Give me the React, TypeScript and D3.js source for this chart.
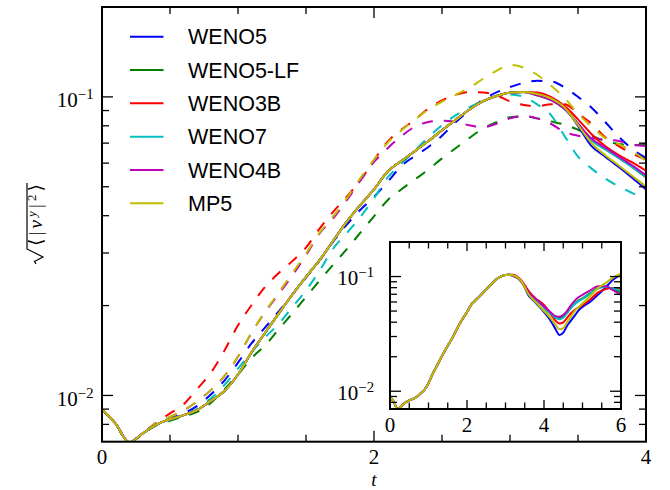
import React from 'react';
import * as d3 from 'd3';

const W = 670;
const H = 490;

const SCHEMES = ['WENO5', 'WENO5-LF', 'WENO3B', 'WENO7', 'WENO4B', 'MP5'];
const COLORS = ['#0000ff', '#008000', '#ff0000', '#00bfbf', '#bf00bf', '#bfbf00'];

// time grid of the solid runs (main plot shows t<=4, inset t<=6)
const T_SOLID = [
  0, 0.1, 0.2, 0.3, 0.4, 0.5, 0.6, 0.7, 0.8, 0.9,
  1.0, 1.1, 1.2, 1.3, 1.4, 1.5, 1.6, 1.7, 1.8, 1.9,
  2.0, 2.1, 2.2, 2.3, 2.4, 2.5, 2.6, 2.7, 2.8, 2.9,
  3.0, 3.1, 3.2, 3.3, 3.4, 3.5, 3.6, 3.7, 3.8, 3.9,
  4.0, 4.1, 4.2, 4.3, 4.4, 4.5, 4.6, 4.7, 4.8, 4.9,
  5.0, 5.2, 5.4, 5.6, 5.8, 6.0,
];

// common growth phase of all solid curves, t = 0 .. 3.1
const SOLID_RISE = [
  0.00899, 0.00804, 0.00697, 0.00746, 0.00798, 0.00832, 0.00859, 0.00895, 0.00959, 0.01035,
  0.01175, 0.01396, 0.01622, 0.01884, 0.02178, 0.02495, 0.02838, 0.03296, 0.03819, 0.04345,
  0.04898, 0.05623, 0.06095, 0.06577, 0.07112, 0.07727, 0.08375, 0.09057, 0.09661, 0.1007,
  0.1033, 0.1038,
];

// solid curves after the peak, t = 3.2 .. 6.0
const SOLID_TAIL_WENO5 = [
  0.1023, 0.0989, 0.0923, 0.0800, 0.0684, 0.0631, 0.0582, 0.0535,
  0.0490, 0.0447, 0.0398, 0.0347, 0.0309, 0.0324, 0.0372, 0.0412, 0.0457, 0.0507,
  0.0543, 0.0603, 0.0692, 0.0803, 0.0942, 0.1047,
];
const SOLID_TAIL_WENO5LF = [
  0.1012, 0.0977, 0.0912, 0.0813, 0.0716, 0.0668, 0.0624, 0.0582,
  0.0537, 0.0495, 0.0462, 0.0437, 0.0432, 0.0447, 0.0490, 0.0537, 0.0582, 0.0617,
  0.0646, 0.0716, 0.0794, 0.0813, 0.0767, 0.0733,
];
const SOLID_TAIL_WENO3B = [
  0.1035, 0.1000, 0.0933, 0.0841, 0.0750, 0.0684, 0.0638, 0.0603,
  0.0565, 0.0513, 0.0457, 0.0412, 0.0389, 0.0398, 0.0437, 0.0479, 0.0513, 0.0537,
  0.0562, 0.0631, 0.0724, 0.0776, 0.0794, 0.0794,
];
const SOLID_TAIL_WENO7 = [
  0.1012, 0.0977, 0.0912, 0.0813, 0.0716, 0.0668, 0.0624, 0.0582,
  0.0540, 0.0501, 0.0468, 0.0437, 0.0424, 0.0437, 0.0479, 0.0531, 0.0575, 0.0610,
  0.0638, 0.0708, 0.0785, 0.0813, 0.0785, 0.0759,
];
const SOLID_TAIL_WENO4B = [
  0.1012, 0.0977, 0.0912, 0.0813, 0.0724, 0.0676, 0.0631, 0.0589,
  0.0547, 0.0513, 0.0479, 0.0452, 0.0447, 0.0462, 0.0501, 0.0562, 0.0617, 0.0661,
  0.0692, 0.0759, 0.0822, 0.0822, 0.0759, 0.0692,
];
const SOLID_TAIL_MP5 = [
  0.1023, 0.0989, 0.0923, 0.0805, 0.0700, 0.0638, 0.0589, 0.0543,
  0.0501, 0.0462, 0.0422, 0.0380, 0.0347, 0.0355, 0.0398, 0.0447, 0.0501, 0.0543,
  0.0582, 0.0676, 0.0794, 0.0877, 0.0982, 0.1059,
];
const SOLID_TAILS = [
  SOLID_TAIL_WENO5, SOLID_TAIL_WENO5LF, SOLID_TAIL_WENO3B,
  SOLID_TAIL_WENO7, SOLID_TAIL_WENO4B, SOLID_TAIL_MP5,
];

// dashed runs (main plot only), t = 0 .. 4.0
const T_DASHED = [
  0, 0.1, 0.2, 0.3, 0.4, 0.5, 0.6, 0.7, 0.8, 0.9,
  1.0, 1.1, 1.2, 1.3, 1.4, 1.5, 1.6, 1.7, 1.8, 1.9,
  2.0, 2.1, 2.2, 2.3, 2.4, 2.5, 2.6, 2.7, 2.8, 2.9,
  3.0, 3.1, 3.2, 3.3, 3.4, 3.5, 3.6, 3.7, 3.8, 3.9,
  4.0,
];
const DASHED_WENO5 = [
  0.00899, 0.00804, 0.00697, 0.00746, 0.00798, 0.00836, 0.00871, 0.00923, 0.01007, 0.01122,
  0.01288, 0.01496, 0.01690, 0.01914, 0.02178, 0.02483, 0.02831, 0.03273, 0.03733, 0.04188,
  0.04624, 0.05188, 0.05861, 0.06339, 0.06792, 0.07413, 0.08222, 0.09016, 0.09772, 0.1035,
  0.1079, 0.1114, 0.1132, 0.1127, 0.1076, 0.1000, 0.0920, 0.0824, 0.0735, 0.0668,
  0.0624,
];
const DASHED_WENO5LF = [
  0.00899, 0.00804, 0.00697, 0.00746, 0.00794, 0.00822, 0.00851, 0.00881, 0.00944, 0.01047,
  0.01175, 0.01334, 0.01472, 0.01667, 0.01884, 0.02138, 0.02427, 0.02742, 0.03090, 0.03508,
  0.03981, 0.04508, 0.04898, 0.05284, 0.05715, 0.06223, 0.06730, 0.07278, 0.07816, 0.08222,
  0.08551, 0.08610, 0.08472, 0.08279, 0.08072, 0.07762, 0.07413, 0.07112, 0.06950, 0.06887,
  0.06966,
];
const DASHED_WENO3B = [
  0.00899, 0.00804, 0.00697, 0.00746, 0.00813, 0.00871, 0.00933, 0.01052, 0.01189, 0.01413,
  0.01718, 0.02009, 0.02312, 0.02570, 0.02818, 0.03126, 0.03622, 0.04121, 0.04634, 0.05248,
  0.06138, 0.07079, 0.07762, 0.08375, 0.09141, 0.09727, 0.1016, 0.1038, 0.1035, 0.1012,
  0.0966, 0.0940, 0.0931, 0.0944, 0.0944, 0.0879, 0.0813, 0.0733, 0.0684, 0.0646,
  0.0617,
];
const DASHED_WENO7 = [
  0.00899, 0.00804, 0.00697, 0.00746, 0.00794, 0.00828, 0.00861, 0.00902, 0.00977, 0.01084,
  0.01230, 0.01396, 0.01567, 0.01738, 0.01977, 0.02249, 0.02618, 0.03105, 0.03499, 0.03963,
  0.04571, 0.05370, 0.05957, 0.06607, 0.07328, 0.08035, 0.08670, 0.09226, 0.09705, 0.1005,
  0.1019, 0.1000, 0.0944, 0.0871, 0.0741, 0.0631, 0.0575, 0.0533, 0.0501, 0.0476,
  0.0454,
];
const DASHED_WENO4B = [
  0.00899, 0.00804, 0.00697, 0.00746, 0.00809, 0.00847, 0.00891, 0.00955, 0.01042, 0.01161,
  0.01349, 0.01622, 0.01905, 0.02188, 0.02523, 0.02951, 0.03491, 0.03917, 0.04508, 0.05248,
  0.06053, 0.06730, 0.07379, 0.07943, 0.08241, 0.08318, 0.08241, 0.08035, 0.07907, 0.08128,
  0.08472, 0.08630, 0.08472, 0.08128, 0.07638, 0.07413, 0.07278, 0.07194, 0.07112, 0.06918,
  0.06839,
];
const DASHED_MP5 = [
  0.00899, 0.00804, 0.00697, 0.00746, 0.00809, 0.00847, 0.00891, 0.00955, 0.01042, 0.01161,
  0.01349, 0.01622, 0.01914, 0.02213, 0.02570, 0.02985, 0.03508, 0.03981, 0.04571, 0.05346,
  0.06166, 0.07015, 0.07709, 0.08375, 0.09078, 0.09638, 0.1016, 0.1072, 0.1148, 0.1222,
  0.1279, 0.1253, 0.1186, 0.1091, 0.0993, 0.0879, 0.0794, 0.0728, 0.0695, 0.0658,
  0.0610,
];
const DASHED = [DASHED_WENO5, DASHED_WENO5LF, DASHED_WENO3B, DASHED_WENO7, DASHED_WENO4B, DASHED_MP5];

const MAIN_X_LABELS = [0, 2, 4];
const INSET_X_LABELS = [0, 2, 4, 6];
const Y_LABEL_DECADES = [0.01, 0.1];
const Y_DOMAIN = [0.007, 0.2];

const SERIF = "'Liberation Serif', 'DejaVu Serif', serif";
const SANS = "'Liberation Sans', Arial, sans-serif";

function isDecade(v: number) {
  const l = Math.log10(v);
  return Math.abs(l - Math.round(l)) < 1e-6;
}

function PowLabel({ x, y, exp, size }: { x: number; y: number; exp: number; size: number }) {
  return (
    <text x={x} y={y} textAnchor="end" fontFamily={SERIF} fontSize={size} fill="#000">
      10
      <tspan dy={-8} fontSize={size * 0.7}>{'\u2212' + Math.abs(exp)}</tspan>
    </text>
  );
}

export default function App() {
  const xM = d3.scaleLinear().domain([0, 4]).range([102, 646]);
  const yM = d3.scaleLog().domain(Y_DOMAIN).range([441.7, 7]);
  const xI = d3.scaleLinear().domain([0, 6]).range([390, 621]);
  const yI = d3.scaleLog().domain(Y_DOMAIN).range([409, 242]);

  const solid = SOLID_TAILS.map((tail) => SOLID_RISE.concat(tail));

  const lineGen = (xs: any, ys: any) =>
    d3
      .line<[number, number]>()
      .x((d) => xs(d[0]))
      .y((d) => ys(d[1]))
      .curve(d3.curveMonotoneX);

  const mainLine = lineGen(xM, yM);
  const insetLine = lineGen(xI, yI);

  const solidPts = solid.map((vals) => T_SOLID.map((t, i) => [t, vals[i]] as [number, number]));
  const dashedPts = DASHED.map((vals) => T_DASHED.map((t, i) => [t, vals[i]] as [number, number]));

  const yTicks = yM.ticks().filter((v) => v > Y_DOMAIN[0] * 1.001 && v < Y_DOMAIN[1] * 0.999);
  const xTicksMain = xM.ticks(8);
  const xTicksInset = xI.ticks(12);

  const [mx0, mx1] = xM.range();
  const [my0, my1] = [yM.range()[1], yM.range()[0]];
  const [ix0, ix1] = xI.range();
  const [iy0, iy1] = [yI.range()[1], yI.range()[0]];

  const tickStroke = { stroke: '#000', strokeWidth: 1.3 };

  return (
    <svg
      width={W}
      height={H}
      viewBox={`0 0 ${W} ${H}`}
      style={{ position: 'absolute', left: 0, top: 0, background: '#fff' }}
    >
      <defs>
        <clipPath id="clipMain">
          <rect x={mx0} y={my0} width={mx1 - mx0} height={my1 - my0} />
        </clipPath>
        <clipPath id="clipInset">
          <rect x={ix0} y={iy0} width={ix1 - ix0} height={iy1 - iy0} />
        </clipPath>
      </defs>
      <rect x={0} y={0} width={W} height={H} fill="#fff" />

      {/* main curves */}
      <g clipPath="url(#clipMain)" fill="none">
        {dashedPts.map((pts, i) => (
          <path
            key={'d' + i}
            d={mainLine(pts) || ''}
            stroke={COLORS[i]}
            strokeWidth={2}
            strokeDasharray="11,11"
          />
        ))}
        {solidPts.map((pts, i) => (
          <path key={'s' + i} d={mainLine(pts) || ''} stroke={COLORS[i]} strokeWidth={2} />
        ))}
      </g>

      {/* main ticks */}
      <g>
        {yTicks.map((v) => {
          const len = isDecade(v) ? 11 : 7;
          const y = yM(v);
          return (
            <g key={'yt' + v}>
              <line x1={mx0} x2={mx0 + len} y1={y} y2={y} {...tickStroke} />
              <line x1={mx1} x2={mx1 - len} y1={y} y2={y} {...tickStroke} />
            </g>
          );
        })}
        {xTicksMain.map((t) => {
          const len = t % 2 === 0 ? 11 : 7;
          const x = xM(t);
          return (
            <g key={'xt' + t}>
              <line x1={x} x2={x} y1={my1} y2={my1 - len} {...tickStroke} />
              <line x1={x} x2={x} y1={my0} y2={my0 + len} {...tickStroke} />
            </g>
          );
        })}
      </g>
      <rect x={mx0} y={my0} width={mx1 - mx0} height={my1 - my0} fill="none" stroke="#000" strokeWidth={2} />

      {/* main tick labels */}
      {MAIN_X_LABELS.map((t) => (
        <text key={'xl' + t} x={xM(t)} y={464} textAnchor="middle" fontFamily={SERIF} fontSize={21}>
          {t}
        </text>
      ))}
      {Y_LABEL_DECADES.map((v) => (
        <PowLabel key={'yl' + v} x={93.5} y={yM(v) + 10.5} exp={Math.round(Math.log10(v))} size={21} />
      ))}
      <text x={xM(2)} y={486} textAnchor="middle" fontFamily={SERIF} fontStyle="italic" fontSize={19}>
        t
      </text>

      {/* y axis label: sqrt(<|v^y|^2>) */}
      <g transform="translate(42,221) rotate(-90)">
        <path
          d="M -43,-6 L -40.5,-7.5 L -36,1 L -28,-15 L 38,-15"
          fill="none"
          stroke="#000"
          strokeWidth={1.2}
        />
        <text x={-25} y={0} fontFamily={SERIF} fontSize={19} textLength={62} lengthAdjust="spacing">
          {'\u27E8|'}
          <tspan fontStyle="italic">v</tspan>
          <tspan fontStyle="italic" fontSize={13} dy={-6}>y</tspan>
          <tspan dy={6}>|</tspan>
          <tspan fontSize={13} dy={-6}>2</tspan>
          <tspan dy={6}>{'\u27E9'}</tspan>
        </text>
      </g>

      {/* legend */}
      {SCHEMES.map((name, i) => {
        const y = 36.7 + i * 33.33;
        return (
          <g key={'lg' + name}>
            <line x1={130} x2={163.5} y1={y} y2={y} stroke={COLORS[i]} strokeWidth={2} />
            <text x={188} y={y + 7.6} fontFamily={SANS} fontSize={21.5} fill="#000">
              {name}
            </text>
          </g>
        );
      })}

      {/* inset */}
      <rect x={ix0} y={iy0} width={ix1 - ix0} height={iy1 - iy0} fill="#fff" />
      <g clipPath="url(#clipInset)" fill="none">
        {solidPts.map((pts, i) => (
          <path key={'is' + i} d={insetLine(pts) || ''} stroke={COLORS[i]} strokeWidth={2} />
        ))}
      </g>
      <g>
        {yTicks.map((v) => {
          const len = isDecade(v) ? 11 : 7;
          const y = yI(v);
          return (
            <g key={'iyt' + v}>
              <line x1={ix0} x2={ix0 + len} y1={y} y2={y} {...tickStroke} />
              <line x1={ix1} x2={ix1 - len} y1={y} y2={y} {...tickStroke} />
            </g>
          );
        })}
        {xTicksInset.map((t) => {
          const len = t % 2 === 0 ? 9 : 6.5;
          const x = xI(t);
          return (
            <g key={'ixt' + t}>
              <line x1={x} x2={x} y1={iy1} y2={iy1 - len} {...tickStroke} />
              <line x1={x} x2={x} y1={iy0} y2={iy0 + len} {...tickStroke} />
            </g>
          );
        })}
      </g>
      <rect x={ix0} y={iy0} width={ix1 - ix0} height={iy1 - iy0} fill="none" stroke="#000" strokeWidth={2} />
      {INSET_X_LABELS.map((t) => (
        <text key={'ixl' + t} x={xI(t)} y={432} textAnchor="middle" fontFamily={SERIF} fontSize={21}>
          {t}
        </text>
      ))}
      {Y_LABEL_DECADES.map((v) => (
        <PowLabel key={'iyl' + v} x={374} y={yI(v) + 8.5} exp={Math.round(Math.log10(v))} size={21} />
      ))}
    </svg>
  );
}
